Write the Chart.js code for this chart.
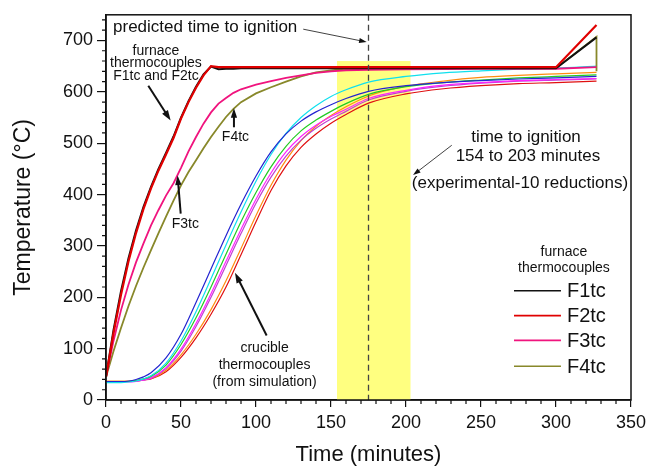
<!DOCTYPE html>
<html>
<head>
<meta charset="utf-8">
<script src="https://cdn.jsdelivr.net/npm/chart.js@4.4.0/dist/chart.umd.min.js"></script>
<style>
  html, body { margin: 0; padding: 0; background: #fff; }
  canvas { display: block; }
</style>
</head>
<body>
<canvas id="grafico" width="662" height="468"></canvas>
<script>
// furnace thermocouples (experimental), time in minutes
const furnaceTime = [0,5,10,15,20,25,30,35,40,45,50,55,60,65,70,75,80,85,90,100,110,120,130,140,150,160,175,200,250,300,327,327];
const f1tc = [45,136,212,276,330,376,415,450,481,513,550,582,610,634,649,644,645,645,646,646,646,646,646,646,646,646,646,646,646,646,706,706];
const f2tc = [45,130,205,270,325,372,412,447,478,510,548,580,608,632,650,648,648,648,648,648,648,648,648,648,648,648,648,648,648,648,730,730];
const f3tc = [45,115,175,225,268,305,340,370,398,422,452,484,512,538,560,577,588,598,605,614,621,627,632,637,640,642,643,644,645,645,648,648];
const f4tc = [45,95,140,183,222,258,292,325,357,388,418,444,467,490,512,532,551,567,580,597,609,620,630,638,642,645,646,646,646,646,707,640];

// crucible thermocouples (simulation)
const crucibleTime = [0,10,15,20,25,30,40,50,60,70,80,90,100,110,120,130,140,150,160,175,200,225,250,275,300,327];
const cBlue    = [36,36,37,40,45,53,82,128,190,255,320,381,436,483,518,543,561,575,587,601,612,618,622,625,627,630];
const cCyan    = [34,34,35,37,41,47,72,115,172,236,302,366,426,478,519,550,573,591,604,619,630,637,641,644,646,650];
const cGreen   = [36,36,36,38,41,46,68,108,160,220,284,347,404,454,494,524,545,562,577,595,610,618,623,627,630,633];
const cMagenta = [35,35,35,36,39,43,63,99,149,207,270,332,391,442,483,513,535,552,566,587,603,613,618,622,624,626];
const cViolet  = [36,36,36,37,39,42,61,95,143,200,262,324,383,434,475,506,529,547,562,584,601,611,617,621,623,625];
const cOrange  = [37,37,37,38,40,42,58,88,128,176,232,295,359,418,467,505,533,554,571,592,611,621,628,632,635,638];
const cRed     = [36,36,36,37,39,41,55,83,121,167,220,283,347,408,456,492,518,539,556,578,596,606,612,616,618,621];

const xTicks = [0,50,100,150,200,250,300,350];
const yTicks = [0,100,200,300,400,500,600,700];
const predictedIgnition = 175;
const ignitionWindow = [154, 203];
const windowTop = 660;

const FONT = '"Liberation Sans", Arial, sans-serif';

function pts(t, v) { return v.map((y, i) => ({x: t[i], y: y})); }

function furnace(label, color, t, v, w) {
  return {label, data: pts(t, v), borderColor: color, borderWidth: w, pointRadius: 0, tension: 0, legend: true};
}
function crucible(color, v) {
  return {label: '', data: pts(crucibleTime, v), borderColor: color, borderWidth: 1.2, pointRadius: 0, cubicInterpolationMode: 'monotone'};
}

function arrow(ctx, x1, y1, x2, y2, w, head) {
  const a = Math.atan2(y2 - y1, x2 - x1);
  ctx.lineWidth = w;
  ctx.beginPath();
  ctx.moveTo(x1, y1);
  ctx.lineTo(x2 - Math.cos(a) * head * 0.6, y2 - Math.sin(a) * head * 0.6);
  ctx.stroke();
  ctx.beginPath();
  ctx.moveTo(x2, y2);
  ctx.lineTo(x2 - head * Math.cos(a - 0.32), y2 - head * Math.sin(a - 0.32));
  ctx.lineTo(x2 - head * Math.cos(a + 0.32), y2 - head * Math.sin(a + 0.32));
  ctx.closePath();
  ctx.fill();
}

const decor = {
  id: 'decor',
  beforeDatasetsDraw(chart) {
    const {ctx, chartArea: a, scales: {x, y}} = chart;
    const x0 = x.getPixelForValue(ignitionWindow[0]);
    const x1 = x.getPixelForValue(ignitionWindow[1]);
    const yt = y.getPixelForValue(windowTop);
    ctx.save();
    ctx.fillStyle = '#FFFF80';
    ctx.fillRect(x0, yt, x1 - x0, a.bottom - yt);
    ctx.restore();
  },
  afterDatasetsDraw(chart) {
    const {ctx, chartArea: a, scales: {x, y}} = chart;
    const X = v => x.getPixelForValue(v), Y = v => y.getPixelForValue(v);
    ctx.save();

    // predicted ignition line
    ctx.strokeStyle = '#444';
    ctx.lineWidth = 1.3;
    ctx.setLineDash([6, 4]);
    ctx.beginPath();
    ctx.moveTo(X(predictedIgnition), a.top);
    ctx.lineTo(X(predictedIgnition), a.bottom);
    ctx.stroke();
    ctx.setLineDash([]);

    // frame
    ctx.strokeStyle = '#111';
    ctx.lineWidth = 1.5;
    ctx.strokeRect(a.left, a.top, a.right - a.left, a.bottom - a.top);

    // minor ticks
    ctx.lineWidth = 1.2;
    ctx.beginPath();
    for (let v = 10; v < 350; v += 10) {
      if (v % 50 === 0) continue;
      ctx.moveTo(X(v), a.bottom);
      ctx.lineTo(X(v), a.bottom + 4);
    }
    for (let v = 20; v < 750; v += 20) {
      if (v % 100 === 0) continue;
      ctx.moveTo(a.left - 4, Y(v));
      ctx.lineTo(a.left, Y(v));
    }
    ctx.stroke();

    // annotations
    ctx.fillStyle = '#111';
    ctx.strokeStyle = '#111';
    ctx.textBaseline = 'middle';
    ctx.font = '17px ' + FONT;
    ctx.textAlign = 'left';
    ctx.fillText('predicted time to ignition', X(4.7), Y(726));
    arrow(ctx, X(131.5), Y(722), X(173.8), Y(697), 0.8, 8);

    ctx.textAlign = 'center';
    ctx.font = '14px ' + FONT;
    ctx.fillText('furnace', X(33.3), Y(680));
    ctx.fillText('thermocouples', X(33.3), Y(655));
    ctx.fillText('F1tc and F2tc', X(33.3), Y(630));
    arrow(ctx, X(28.2), Y(612), X(43.1), Y(544), 2, 11);

    ctx.fillText('F4tc', X(86.3), Y(512));
    arrow(ctx, X(85.3), Y(531), X(85.3), Y(568), 2, 10);

    ctx.fillText('F3tc', X(52.9), Y(342));
    arrow(ctx, X(49.8), Y(363), X(47.7), Y(437), 2, 10);

    ctx.fillText('crucible', X(105.7), Y(100));
    ctx.fillText('thermocouples', X(105.7), Y(67.7));
    ctx.fillText('(from simulation)', X(105.7), Y(35.4));
    arrow(ctx, X(107.1), Y(125.6), X(86), Y(248), 2, 11);

    ctx.font = '17px ' + FONT;
    ctx.fillText('time to ignition', X(280), Y(512));
    ctx.fillText('154 to 203 minutes', X(281.3), Y(473.6));
    ctx.fillText('(experimental-10 reductions)', X(276), Y(421.4));
    arrow(ctx, X(230.5), Y(496), X(204.7), Y(438), 0.8, 8);

    // legend for furnace thermocouples
    ctx.font = '14px ' + FONT;
    ctx.fillText('furnace', X(305.3), Y(288));
    ctx.fillText('thermocouples', X(305.3), Y(257));
    const rows = [212.6, 164.3, 116, 65.7];
    const items = chart.data.datasets.filter(d => d.legend)
      .sort((p, q) => p.label.localeCompare(q.label));
    ctx.font = '20px ' + FONT;
    ctx.textAlign = 'left';
    items.forEach((d, i) => {
      ctx.strokeStyle = d.borderColor;
      ctx.lineWidth = 1.6;
      ctx.beginPath();
      ctx.moveTo(X(272), Y(rows[i]));
      ctx.lineTo(X(303.3), Y(rows[i]));
      ctx.stroke();
      ctx.fillStyle = '#111';
      ctx.fillText(d.label, X(307.3), Y(rows[i]) + 1);
    });
    ctx.restore();
  }
};

new Chart('grafico', {
  type: 'line',
  data: {
    datasets: [
      furnace('F2tc', '#E00000', furnaceTime, f2tc, 2.2),
      furnace('F1tc', '#111111', furnaceTime, f1tc, 2),
      furnace('F3tc', '#F0147E', furnaceTime, f3tc, 1.8),
      furnace('F4tc', '#88882A', furnaceTime, f4tc, 1.8),
      crucible('#2424D0', cBlue),
      crucible('#10E0EE', cCyan),
      crucible('#22CC22', cGreen),
      crucible('#FF22FF', cMagenta),
      crucible('#C040D0', cViolet),
      crucible('#FF8C10', cOrange),
      crucible('#E01010', cRed)
    ]
  },
  options: {
    responsive: false,
    animation: false,
    devicePixelRatio: 1,
    layout: {padding: {top: 12, right: 31, left: 0, bottom: 0}},
    plugins: {legend: {display: false}, tooltip: {enabled: false}},
    scales: {
      x: {
        type: 'linear', min: 0, max: 350,
        afterFit: s => { s.height = 68; },
        afterBuildTicks: s => { s.ticks = xTicks.map(v => ({value: v})); },
        ticks: {font: {family: FONT, size: 18}, color: '#111', padding: 5, maxRotation: 0},
        grid: {drawOnChartArea: false, color: '#111', tickLength: 7, lineWidth: 1.2},
        border: {color: '#111', width: 1.5},
        title: {display: true, text: 'Time (minutes)', font: {family: FONT, size: 22}, color: '#111', padding: {top: 0, bottom: 0}}
      },
      y: {
        type: 'linear', min: 0, max: 750,
        afterFit: s => { s.width = 106; },
        afterBuildTicks: s => { s.ticks = yTicks.map(v => ({value: v})); },
        ticks: {font: {family: FONT, size: 18}, color: '#111', padding: 4},
        grid: {drawOnChartArea: false, color: '#111', tickLength: 9, lineWidth: 1.2},
        border: {color: '#111', width: 1.5},
        title: {display: true, text: 'Temperature (\u00B0C)', font: {family: FONT, size: 23}, color: '#111', padding: {top: 10, bottom: 0}}
      }
    }
  },
  plugins: [decor]
});
</script>
</body>
</html>
